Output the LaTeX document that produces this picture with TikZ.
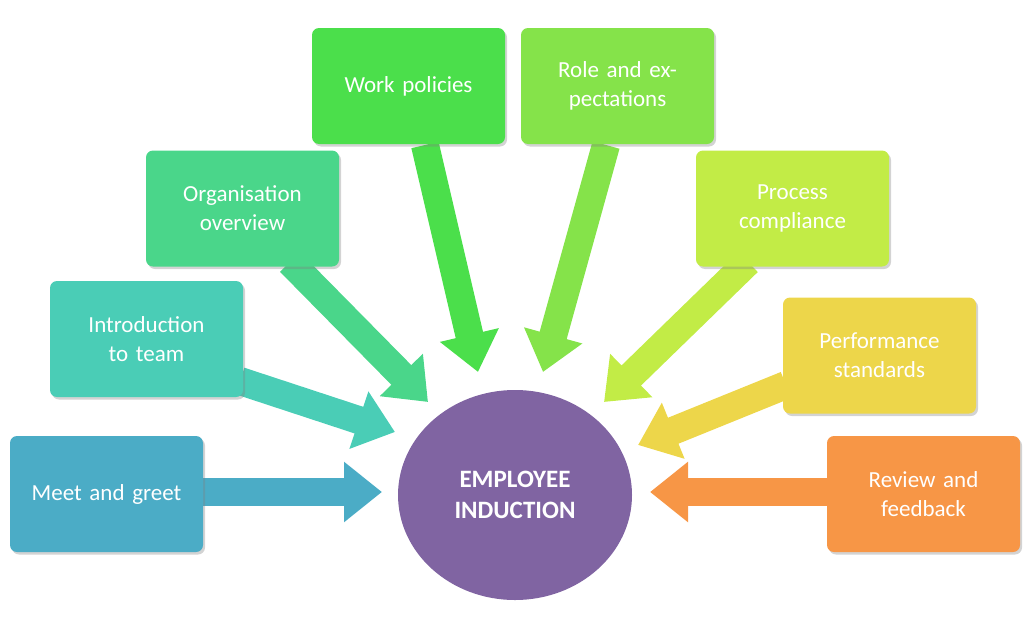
\documentclass[tikz,border=0pt]{standalone}
\usepackage{fontspec}
\setmainfont{Carlito}
\usetikzlibrary{arrows.meta,shadows,shapes.geometric}
\begin{document}
\begin{tikzpicture}[x=1pt,y=-1pt,
  box/.style={draw=none,rounded corners=7pt,minimum width=193pt,minimum height=116pt,inner sep=0pt,
    text width=185pt,align=center,text=white,font=\fontsize{23}{29}\selectfont,
    drop shadow={opacity=0.35,shadow xshift=2pt,shadow yshift=-2.5pt}},
  barrow/.style={line width=28pt,-{Triangle[length=38pt,width=58pt]}}]
\useasboundingbox (0,0) rectangle (1024,637);
\definecolor{c1}{HTML}{4BACC6}\definecolor{c2}{HTML}{4ACDB6}\definecolor{c3}{HTML}{4AD68A}
\definecolor{c4}{HTML}{4BDF4B}\definecolor{c5}{HTML}{85E34A}\definecolor{c6}{HTML}{C2EC46}
\definecolor{c7}{HTML}{EDD64A}\definecolor{c8}{HTML}{F79646}\definecolor{cp}{HTML}{8064A2}
% arrow coordinates
\coordinate (s1) at (203,492); \coordinate (e1) at (382,492);
\coordinate (s2) at (240,381); \coordinate (e2) at (395,432);
\coordinate (s3) at (290,262); \coordinate (e3) at (428,402);
\coordinate (s4) at (425,145); \coordinate (e4) at (478,372);
\coordinate (s5) at (606,145); \coordinate (e5) at (543,372);
\coordinate (s6) at (748,262); \coordinate (e6) at (604,402);
\coordinate (s7) at (786,385); \coordinate (e7) at (638,445);
\coordinate (s8) at (830,492); \coordinate (e8) at (650,492);
\draw[barrow,c1] (s1) -- (e1);
\draw[barrow,c2] (s2) -- (e2);
\draw[barrow,c3] (s3) -- (e3);
\draw[barrow,c4] (s4) -- (e4);
\draw[barrow,c5] (s5) -- (e5);
\draw[barrow,c6] (s6) -- (e6);
\draw[barrow,c7] (s7) -- (e7);
\draw[barrow,c8] (s8) -- (e8);
\node[box,fill=c1] (b1) at (106.5,494) {Meet and greet};
\node[box,fill=c2] (b2) at (146.5,339) {Introduction to team};
\node[box,fill=c3] (b3) at (242.5,208.5) {Organisation overview};
\node[box,fill=c4] (b4) at (408.5,86) {Work policies};
\node[box,fill=c5] (b5) at (617.5,86) {Role and expectations};
\node[box,fill=c6] (b6) at (792.5,208.5) {Process compliance};
\node[box,fill=c7] (b7) at (879.5,355.5) {Performance standards};
\node[box,fill=c8] (b8) at (923.5,494) {Review and feedback};
\node[ellipse,fill=cp,minimum width=234pt,minimum height=210pt,inner sep=0pt,
  text=white,align=center,font=\bfseries\fontsize{25}{31}\selectfont] (c) at (515,495)
  {EMPLOYEE\\INDUCTION};
\end{tikzpicture}
\end{document}
